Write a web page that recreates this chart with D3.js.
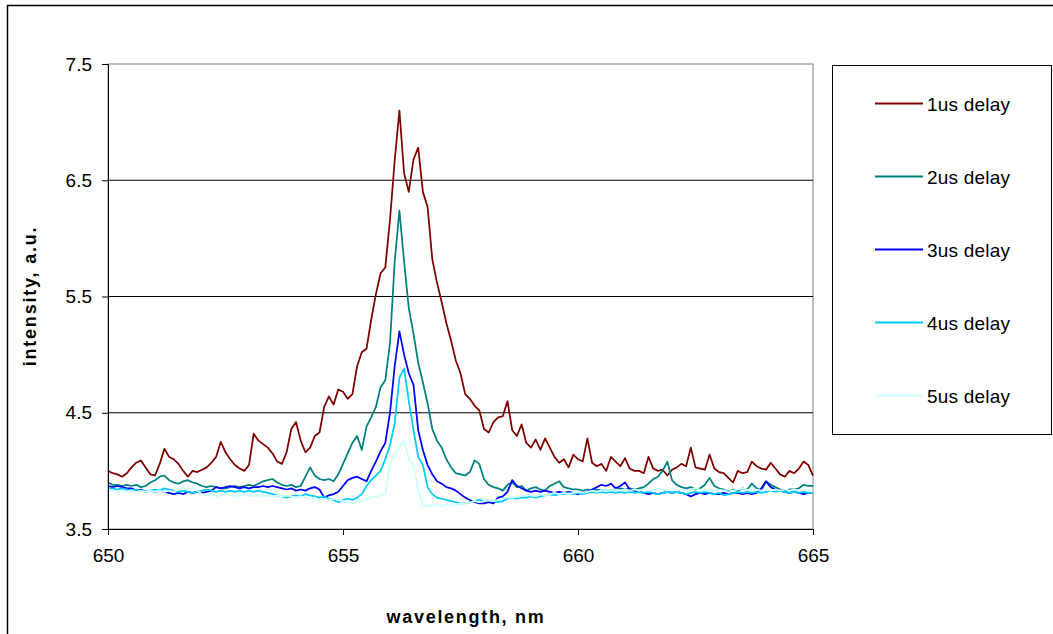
<!DOCTYPE html>
<html>
<head>
<meta charset="utf-8">
<script src="https://cdn.jsdelivr.net/npm/d3@7"></script>
<style>
  body { margin: 0; background: #fff; }
  svg { font-family: Arial, "Liberation Sans", sans-serif; }
</style>
</head>
<body>
<svg id="drawing_region"></svg>
<script>
// wavelength grid, 650 .. 665 nm every 0.1 nm
const wavelengths = d3.range(151).map(i => +(650 + i * 0.1).toFixed(1));

const delay1 = [
  4.00, 3.98, 3.97, 3.95, 3.98, 4.03, 4.07, 4.09, 4.03, 3.97,
  3.96, 4.06, 4.19, 4.12, 4.10, 4.06, 4.00, 3.95, 4.00, 3.99,
  4.01, 4.03, 4.07, 4.12, 4.25, 4.16, 4.10, 4.05, 4.02, 4.00,
  4.05, 4.32, 4.26, 4.23, 4.20, 4.15, 4.08, 4.06, 4.16, 4.36,
  4.42, 4.26, 4.16, 4.20, 4.30, 4.33, 4.55, 4.64, 4.57, 4.70,
  4.68, 4.62, 4.66, 4.90, 5.02, 5.05, 5.30, 5.52, 5.70, 5.75,
  6.16, 6.67, 7.10, 6.56, 6.40, 6.68, 6.78, 6.40, 6.27, 5.82,
  5.62, 5.45, 5.27, 5.12, 4.95, 4.84, 4.66, 4.62, 4.56, 4.52,
  4.36, 4.33, 4.42, 4.46, 4.47, 4.60, 4.35, 4.30, 4.40, 4.24,
  4.20, 4.27, 4.18, 4.28, 4.20, 4.12, 4.07, 4.10, 4.03, 4.14,
  4.10, 4.08, 4.28, 4.07, 4.04, 4.06, 4.00, 4.12, 4.08, 4.04,
  4.11, 4.02, 4.00, 4.00, 3.98, 4.12, 4.02, 4.00, 4.01, 3.96,
  4.01, 4.03, 4.06, 4.04, 4.20, 4.03, 4.02, 4.01, 4.14, 4.02,
  3.99, 3.98, 3.94, 3.90, 4.00, 3.98, 3.99, 4.08, 4.04, 4.02,
  4.01, 4.07, 4.02, 3.97, 3.95, 4.00, 3.98, 4.02, 4.08, 4.05,
  3.96
];

const delay2 = [
  3.90, 3.88, 3.88, 3.87, 3.88, 3.87, 3.88, 3.86, 3.87, 3.90,
  3.92, 3.95, 3.96, 3.92, 3.90, 3.89, 3.91, 3.92, 3.90, 3.89,
  3.87, 3.86, 3.87, 3.86, 3.85, 3.85, 3.86, 3.87, 3.86, 3.87,
  3.88, 3.87, 3.89, 3.91, 3.92, 3.93, 3.90, 3.88, 3.87, 3.88,
  3.86, 3.87, 3.95, 4.03, 3.96, 3.93, 3.92, 3.93, 3.91, 3.97,
  4.06, 4.15, 4.24, 4.30, 4.18, 4.38, 4.46, 4.55, 4.72, 4.78,
  5.10, 5.80, 6.24, 5.80, 5.40, 5.18, 4.93, 4.76, 4.58, 4.36,
  4.26, 4.20, 4.10, 4.03, 3.98, 3.97, 3.96, 3.99, 4.09, 4.06,
  3.93, 3.88, 3.86, 3.85, 3.83, 3.88, 3.90, 3.86, 3.87, 3.83,
  3.85, 3.86, 3.84, 3.83, 3.87, 3.89, 3.91, 3.86, 3.85, 3.84,
  3.84, 3.83, 3.84, 3.83, 3.84, 3.83, 3.84, 3.83, 3.84, 3.85,
  3.84, 3.85, 3.84, 3.85, 3.86, 3.89, 3.93, 3.95, 4.00, 4.08,
  3.92, 3.88, 3.86, 3.85, 3.86, 3.84, 3.85, 3.88, 3.94, 3.87,
  3.85, 3.84, 3.83, 3.84, 3.83, 3.85, 3.84, 3.89, 3.85, 3.83,
  3.91, 3.88, 3.86, 3.84, 3.83, 3.84, 3.84, 3.85, 3.88, 3.87,
  3.87
];

const delay3 = [
  3.87, 3.86, 3.87, 3.86, 3.85, 3.85, 3.83, 3.84, 3.82, 3.83,
  3.82, 3.83, 3.82, 3.81, 3.80, 3.81, 3.80, 3.82, 3.81, 3.82,
  3.81, 3.82, 3.83, 3.86, 3.85, 3.86, 3.87, 3.86, 3.85, 3.86,
  3.85, 3.86, 3.86, 3.87, 3.86, 3.87, 3.86, 3.85, 3.84, 3.85,
  3.83, 3.84, 3.83, 3.85, 3.86, 3.84, 3.77, 3.79, 3.80, 3.82,
  3.87, 3.92, 3.94, 3.95, 3.93, 3.91, 4.00, 4.08, 4.17, 4.24,
  4.50, 4.90, 5.20, 5.00, 4.84, 4.74, 4.35, 4.18, 4.05, 3.97,
  3.91, 3.89, 3.86, 3.85, 3.83, 3.80, 3.77, 3.75, 3.73, 3.72,
  3.72, 3.73, 3.72, 3.77, 3.78, 3.82, 3.92, 3.87, 3.85, 3.83,
  3.82, 3.83, 3.82, 3.83, 3.82, 3.81, 3.82, 3.81, 3.82, 3.81,
  3.80, 3.81, 3.82, 3.84, 3.86, 3.88, 3.87, 3.89, 3.85, 3.87,
  3.90, 3.84, 3.83, 3.82, 3.81, 3.80, 3.81, 3.80, 3.81, 3.82,
  3.81, 3.82, 3.81, 3.80, 3.78, 3.80, 3.81, 3.80, 3.81, 3.80,
  3.80, 3.81, 3.80, 3.81, 3.81, 3.80, 3.81, 3.80, 3.81, 3.85,
  3.91, 3.86, 3.84, 3.83, 3.82, 3.81, 3.82, 3.81, 3.80, 3.81,
  3.81
];

const delay4 = [
  3.85, 3.85, 3.84, 3.85, 3.84, 3.83, 3.84, 3.83, 3.82, 3.83,
  3.84, 3.83, 3.85, 3.84, 3.83, 3.82, 3.83, 3.82, 3.81, 3.82,
  3.83, 3.84, 3.83, 3.82, 3.83, 3.82, 3.83, 3.82, 3.83, 3.82,
  3.83, 3.82, 3.83, 3.82, 3.81, 3.80, 3.79, 3.78, 3.77, 3.78,
  3.79, 3.78, 3.80, 3.79, 3.78, 3.77, 3.78, 3.76, 3.75, 3.73,
  3.75, 3.76, 3.75, 3.77, 3.80, 3.87, 3.92, 3.96, 4.00, 4.10,
  4.22, 4.41, 4.80, 4.88, 4.60, 4.35, 4.12, 4.05, 3.86, 3.80,
  3.77, 3.76, 3.75, 3.74, 3.73, 3.72, 3.72, 3.73, 3.74, 3.75,
  3.74, 3.75, 3.74, 3.73, 3.74, 3.76, 3.77, 3.76, 3.77, 3.77,
  3.78, 3.77, 3.78, 3.79, 3.80, 3.79, 3.80, 3.80, 3.81, 3.80,
  3.81, 3.80, 3.81, 3.82, 3.81, 3.82, 3.81, 3.82, 3.81, 3.82,
  3.81, 3.82, 3.81, 3.82, 3.81, 3.82, 3.81, 3.80, 3.81, 3.82,
  3.81, 3.82, 3.81, 3.80, 3.81, 3.82, 3.81, 3.82, 3.81, 3.80,
  3.81, 3.79, 3.80, 3.81, 3.82, 3.81, 3.82, 3.81, 3.82, 3.81,
  3.82, 3.83, 3.82, 3.83, 3.82, 3.81, 3.82, 3.81, 3.82, 3.81,
  3.81
];

const delay5 = [
  3.83, 3.83, 3.82, 3.83, 3.82, 3.83, 3.82, 3.83, 3.82, 3.83,
  3.82, 3.83, 3.82, 3.83, 3.82, 3.84, 3.85, 3.84, 3.85, 3.83,
  3.80, 3.79, 3.80, 3.78, 3.79, 3.80, 3.79, 3.78, 3.79, 3.80,
  3.79, 3.78, 3.79, 3.78, 3.79, 3.78, 3.79, 3.78, 3.79, 3.78,
  3.77, 3.78, 3.77, 3.76, 3.77, 3.75, 3.76, 3.75, 3.76, 3.75,
  3.74, 3.73, 3.72, 3.73, 3.74, 3.76, 3.77, 3.78, 3.79, 3.80,
  4.05, 4.15, 4.20, 4.26, 4.10, 4.05, 3.83, 3.71, 3.70, 3.70,
  3.71, 3.70, 3.71, 3.70, 3.71, 3.72, 3.72, 3.73, 3.74, 3.73,
  3.74, 3.75, 3.74, 3.75, 3.76, 3.77, 3.77, 3.78, 3.78, 3.79,
  3.79, 3.78, 3.80, 3.79, 3.80, 3.81, 3.80, 3.81, 3.80, 3.81,
  3.82, 3.81, 3.82, 3.83, 3.82, 3.83, 3.84, 3.83, 3.84, 3.83,
  3.84, 3.83, 3.84, 3.83, 3.84, 3.83, 3.84, 3.85, 3.84, 3.83,
  3.84, 3.83, 3.84, 3.83, 3.84, 3.85, 3.84, 3.83, 3.84, 3.83,
  3.84, 3.83, 3.84, 3.83, 3.84, 3.85, 3.84, 3.83, 3.84, 3.83,
  3.84, 3.83, 3.84, 3.83, 3.84, 3.83, 3.84, 3.83, 3.84, 3.83,
  3.84
];

const seriesNames = ['1us delay', '2us delay', '3us delay', '4us delay', '5us delay'];
const seriesColors = ['#800000', '#008080', '#0000FF', '#00CCFF', '#CCFFFF'];
const xTicks = [650, 655, 660, 665];
const yTicks = [3.5, 4.5, 5.5, 6.5, 7.5];

class spectrumChart {
    constructor(config, data) {
        this.config = {
            parent: config.parent,
            width: config.width || 1053,
            height: config.height || 634,
            margin: config.margin || { top: 64, right: 240, bottom: 105, left: 108 }
        };
        this.data = data;
        this.init();
    }

    init() {
        let self = this;

        self.svg = d3.select(self.config.parent)
            .attr('width', self.config.width)
            .attr('height', self.config.height);

        // outer chart frame (right and bottom edges fall outside the picture)
        self.svg.append('rect')
            .attr('x', 7.5).attr('y', 5.5)
            .attr('width', 1100).attr('height', 700)
            .attr('fill', 'none')
            .attr('stroke', '#000')
            .attr('stroke-width', 1.5);

        self.chart = self.svg.append('g')
            .attr('transform', `translate(${self.config.margin.left}, ${self.config.margin.top})`);
        self.inner_width = self.config.width - self.config.margin.left - self.config.margin.right;
        self.inner_height = self.config.height - self.config.margin.top - self.config.margin.bottom;

        self.xscale = d3.scaleLinear()
            .domain([650, 665])
            .range([0, self.inner_width]);

        self.yscale = d3.scaleLinear()
            .domain([3.5, 7.5])
            .range([self.inner_height, 0]);
    }

    render() {
        let self = this;

        // plot area border
        self.chart.append('rect')
            .attr('x', 0).attr('y', 0)
            .attr('width', self.inner_width).attr('height', self.inner_height)
            .attr('fill', '#fff')
            .attr('stroke', '#808080');

        // horizontal gridlines
        self.chart.selectAll('.grid')
            .data(yTicks.filter(d => d > 3.5 && d < 7.5))
            .enter().append('line')
            .attr('class', 'grid')
            .attr('x1', 0).attr('x2', self.inner_width)
            .attr('y1', d => self.yscale(d)).attr('y2', d => self.yscale(d))
            .attr('stroke', '#000')
            .attr('stroke-width', 1);

        // series lines
        let line = d3.line()
            .x(d => self.xscale(d.x))
            .y(d => self.yscale(d.y));

        self.data.forEach(function (s) {
            self.chart.append('path')
                .datum(s.values)
                .attr('d', line)
                .attr('fill', 'none')
                .attr('stroke', s.color)
                .attr('stroke-width', 1.75)
                .attr('stroke-linejoin', 'round');
        });

        // axes
        let xaxis = d3.axisBottom(self.xscale)
            .tickValues(xTicks).tickSize(6).tickPadding(14)
            .tickFormat(d3.format('d'));
        let yaxis = d3.axisLeft(self.yscale)
            .tickValues(yTicks).tickSize(6).tickPadding(10)
            .tickFormat(d3.format('.1f'));

        let xg = self.chart.append('g')
            .attr('transform', `translate(0, ${self.inner_height})`)
            .call(xaxis);
        let yg = self.chart.append('g').call(yaxis);

        [xg, yg].forEach(g => {
            g.select('.domain').attr('stroke', '#000');
            g.selectAll('.tick line').attr('stroke', '#000');
            g.selectAll('.tick text')
                .attr('font-size', 19)
                .attr('font-family', 'Arial, "Liberation Sans", sans-serif')
                .attr('fill', '#000');
        });

        // axis titles
        self.svg.append('text')
            .attr('x', 466)
            .attr('y', 623)
            .attr('text-anchor', 'middle')
            .attr('font-size', 18).attr('font-weight', 'bold')
            .attr('letter-spacing', 1.7)
            .text('wavelength, nm');

        self.svg.append('text')
            .attr('transform', 'translate(36, 296) rotate(-90)')
            .attr('text-anchor', 'middle')
            .attr('font-size', 18).attr('font-weight', 'bold')
            .attr('letter-spacing', 1.8)
            .text('intensity, a.u.');

        // legend
        let legend = self.svg.append('g');
        legend.append('rect')
            .attr('x', 832.5).attr('y', 65.5)
            .attr('width', 219).attr('height', 369)
            .attr('fill', '#fff')
            .attr('stroke', '#000');

        let rows = legend.selectAll('.legend')
            .data(self.data)
            .enter().append('g')
            .attr('class', 'legend')
            .attr('transform', (d, i) => `translate(875, ${103.5 + i * 73})`);
        rows.append('line')
            .attr('x1', 0).attr('x2', 48)
            .attr('stroke', d => d.color)
            .attr('stroke-width', 2);
        rows.append('text')
            .attr('x', 52).attr('y', 7)
            .attr('font-size', 19)
            .attr('letter-spacing', 0.2)
            .text(d => d.name);
    }
}

const series = seriesNames.map((name, i) => ({
    name: name,
    color: seriesColors[i],
    values: [delay1, delay2, delay3, delay4, delay5][i].map((v, j) => ({ x: wavelengths[j], y: v }))
}));

const chart = new spectrumChart({
    parent: '#drawing_region',
    width: 1053,
    height: 634,
    margin: { top: 64, right: 240, bottom: 105, left: 108 }
}, series);
chart.render();
</script>
</body>
</html>
